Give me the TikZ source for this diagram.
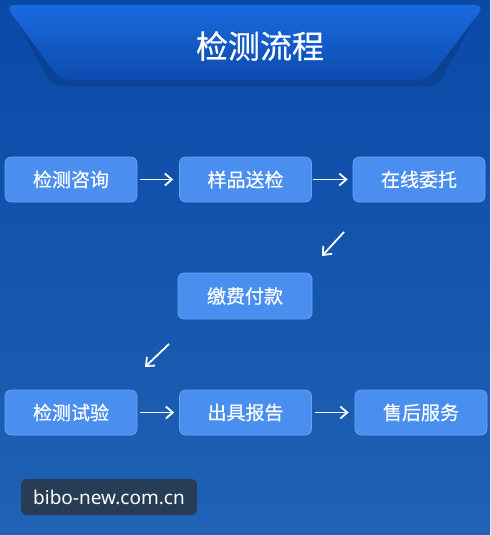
\documentclass[tikz,border=0pt]{standalone}
\usepackage{fontspec}
\usetikzlibrary{arrows.meta}
\newfontfamily\cjk[FakeBold=0.5]{Noto Sans CJK SC}
\newfontfamily\wm{Noto Sans}
\definecolor{bgtop}{HTML}{0A49A8}
\definecolor{bgbot}{HTML}{2062B4}
\definecolor{bantop}{HTML}{1A6AE0}
\definecolor{banbot}{HTML}{0C4BAE}
\definecolor{boxfill}{HTML}{4A8EF0}
\definecolor{boxedge}{HTML}{6AA4F5}
\definecolor{wmfill}{HTML}{263D55}
\begin{document}
\begin{tikzpicture}[x=1pt,y=-1pt,
  stepbox/.style={draw=boxedge,line width=0.6pt,fill=boxfill,rounded corners=6pt,
    minimum width=132pt,minimum height=45pt,inner sep=0pt,text=white,font=\cjk\fontsize{19}{21}\selectfont},
  flow/.style={draw=white,line width=1.8pt,-{Straight Barb[length=7pt,width=12pt]}}]
\useasboundingbox (0,0) rectangle (490,535);
\shade[top color=bgtop,bottom color=bgbot] (0,0) rectangle (490,535);
% banner shadow
\fill[black,opacity=0.12,rounded corners=8pt] (12,12) -- (478,12) -- (438,86) -- (52,86) -- cycle;
% banner
\shade[top color=bantop,bottom color=banbot,rounded corners=10pt] (5,5) -- (485,5) -- (428,80) -- (60,80) -- cycle;
\node[text=white,font=\cjk\fontsize{32}{34}\selectfont] (title) at (260,46) {检测流程};
% boxes
\node[stepbox] (a1) at (71,179.5) {检测咨询};
\node[stepbox] (a2) at (245.5,179.5) {样品送检};
\node[stepbox] (a3) at (419,179.5) {在线委托};
\node[stepbox,minimum width=134pt,minimum height=46pt] (b1) at (245,296) {缴费付款};
\node[stepbox] (c1) at (71,412.5) {检测试验};
\node[stepbox] (c2) at (245.5,412.5) {出具报告};
\node[stepbox] (c3) at (421,412.5) {售后服务};
% arrows
\draw[flow] ([xshift=3pt]a1.east) -- ([xshift=-6pt]a2.west);
\draw[flow] ([xshift=1pt]a2.east) -- ([xshift=-5pt]a3.west);
\coordinate (d1s) at (344,232);
\coordinate (d1e) at (322,256);
\draw[flow] (d1s) -- (d1e);
\coordinate (d2s) at (169,344);
\coordinate (d2e) at (145,367);
\draw[flow] (d2s) -- (d2e);
\draw[flow] ([xshift=3pt]c1.east) -- ([xshift=-5pt]c2.west);
\draw[flow] ([xshift=3pt]c2.east) -- ([xshift=-6pt]c3.west);
% watermark
\node[fill=wmfill,rounded corners=6pt,minimum width=176pt,minimum height=36pt,inner sep=0pt,
  text=white,font=\wm\fontsize{19}{21}\selectfont] (wm) at (109,497) {bibo-new.com.cn};
\end{tikzpicture}
\end{document}
